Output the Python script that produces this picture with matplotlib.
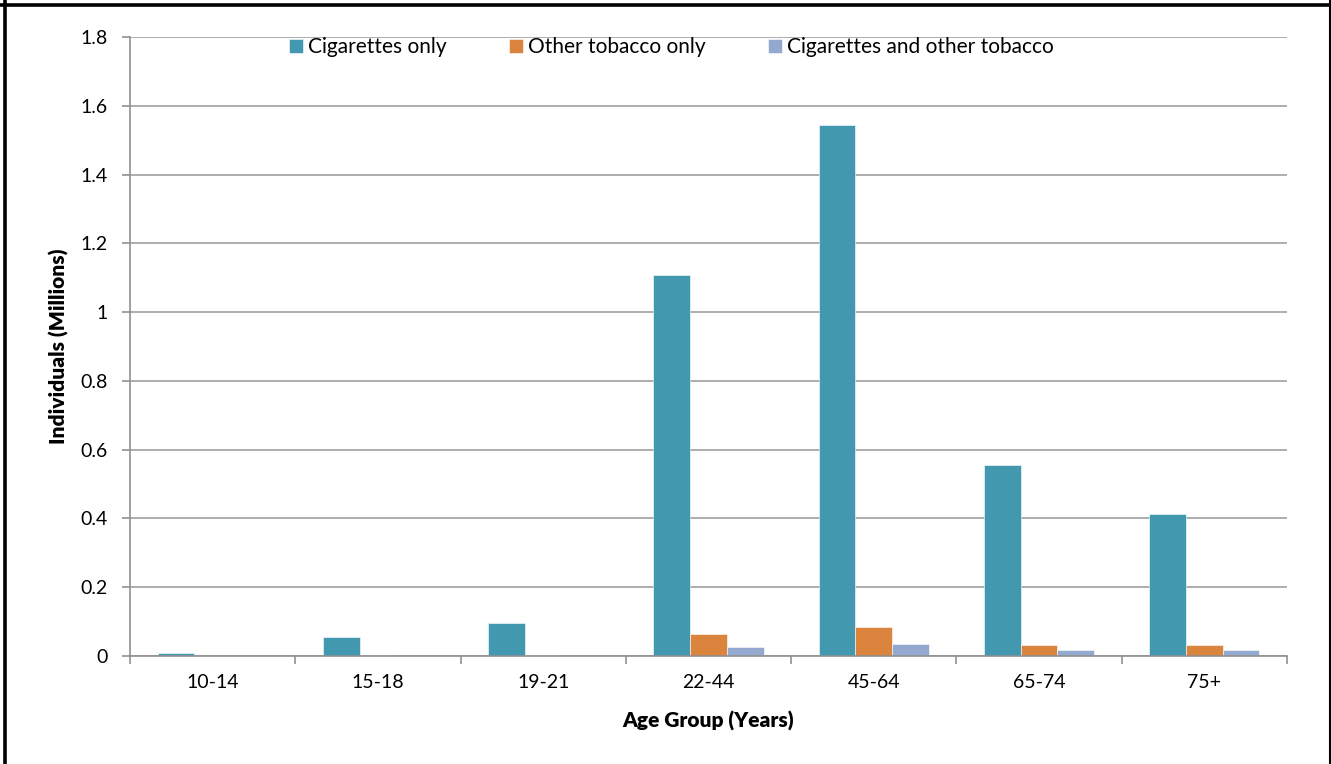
import matplotlib
matplotlib.use("Agg")
import matplotlib.pyplot as plt
import numpy as np
from matplotlib.lines import Line2D

plt.rcParams['font.family'] = ['Lato', 'DejaVu Sans']

categories = ["10-14", "15-18", "19-21", "22-44", "45-64", "65-74", "75+"]
series_names = ["Cigarettes only", "Other tobacco only", "Cigarettes and other tobacco"]
cigarettes_only = [0.008, 0.055, 0.096, 1.108, 1.544, 0.555, 0.413]
other_tobacco_only = [0.0, 0.002, 0.004, 0.064, 0.084, 0.032, 0.032]
cig_and_other = [0.0, 0.001, 0.001, 0.026, 0.035, 0.017, 0.016]
y_ticks = [0, 0.2, 0.4, 0.6, 0.8, 1.0, 1.2, 1.4, 1.6, 1.8]
y_tick_labels = ["0", "0.2", "0.4", "0.6", "0.8", "1", "1.2", "1.4", "1.6", "1.8"]
colors = ["#4198AF", "#DB843D", "#93A9CF"]

W, H = 1331, 764
fig = plt.figure(figsize=(W / 100, H / 100), dpi=100)
ax = fig.add_axes([130 / W, (H - 656) / H, (1287 - 130) / W, (656 - 37) / H])

x = np.arange(len(categories))
bw = 0.222
data = [cigarettes_only, other_tobacco_only, cig_and_other]
for i, (vals, c, name) in enumerate(zip(data, colors, series_names)):
    ax.bar(x + (i - 1) * bw, vals, width=bw, color=c, label=name,
           edgecolor='white', linewidth=0.4, zorder=3)

ax.set_xlim(-0.5, len(categories) - 0.5)
ax.set_ylim(0, 1.8)
ax.set_yticks(y_ticks)
ax.set_yticklabels(y_tick_labels, fontsize=14)
ax.set_xticks(x)
ax.set_xticklabels(categories, fontsize=14)
ax.tick_params(axis='x', which='major', length=0, pad=13)
ax.set_xticks(np.arange(-0.5, len(categories), 1.0), minor=True)
ax.tick_params(axis='x', which='minor', length=6, color='#909090', width=1.2, direction='out')
ax.tick_params(axis='y', length=6, color='#909090', width=1.2, direction='out', pad=10)

ax.grid(axis='y', color='#A0A0A0', linewidth=1.2, zorder=0)
for s in ['top', 'right']:
    ax.spines[s].set_visible(False)
for s in ['left', 'bottom']:
    ax.spines[s].set_color('#909090')
    ax.spines[s].set_linewidth(1.2)
ax.spines['bottom'].set_zorder(4)

ax.set_ylabel("Individuals (Millions)", fontsize=15, fontweight='heavy', labelpad=8)
ax.set_xlabel("Age Group (Years)", fontsize=15, fontweight='heavy', labelpad=14)

leg = ax.legend(loc='center', bbox_to_anchor=(0.468, 0.984), ncol=3, frameon=False,
                fontsize=15, handlelength=0.65, handleheight=0.65, handletextpad=0.25,
                columnspacing=3.0, borderaxespad=0)

# outer frame
fig.add_artist(Line2D([0, 1], [1 - 4.5 / H, 1 - 4.5 / H], color='black', linewidth=2.6,
                      transform=fig.transFigure))
fig.add_artist(Line2D([4.5 / W, 4.5 / W], [0, 1], color='black', linewidth=2.6,
                      transform=fig.transFigure))
fig.add_artist(Line2D([1 - 1.5 / W, 1 - 1.5 / W], [0, 1], color='black', linewidth=1.5,
                      transform=fig.transFigure))

fig.savefig("out.png", dpi=100)
